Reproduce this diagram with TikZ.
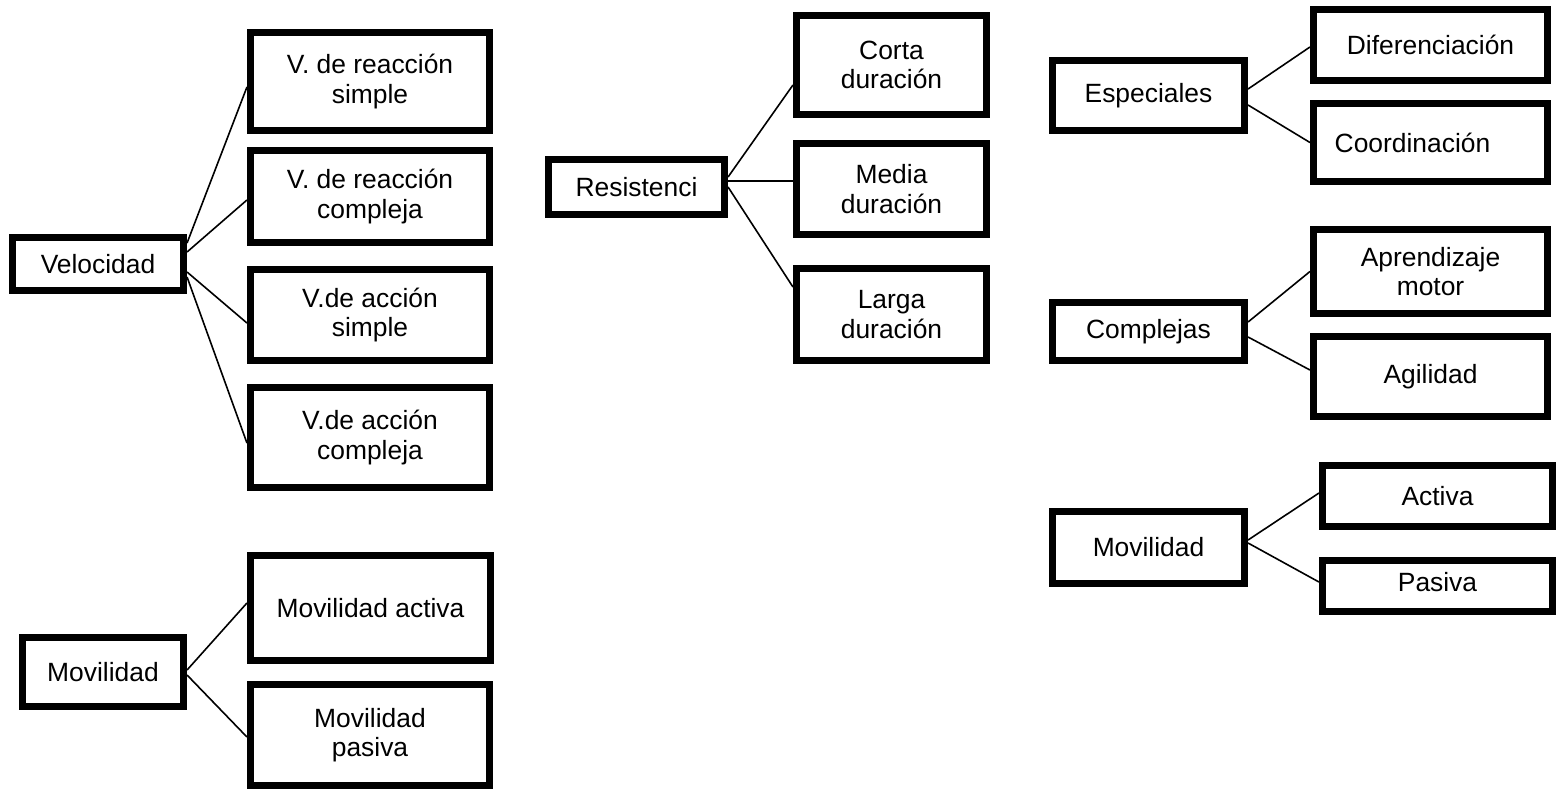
\documentclass[tikz,border=0pt]{standalone}
\usepackage{fontspec}
\setmainfont{Liberation Sans}
\usetikzlibrary{calc}
\tikzset{
  box/.style={draw=black, line width=3.3pt, fill=white, inner sep=0pt,
    align=center, font=\fontsize{13.2}{14.7}\selectfont},
  link/.style={draw=black, line width=0.8pt},
}
\begin{document}
\begin{tikzpicture}[x=0.5pt, y=-0.5pt]
  \fill[white] (0,0) rectangle (1557,789);
  \useasboundingbox (0,0) rectangle (1557,789);

  % --- Velocidad ---
  \node[box, minimum width=85.75pt, minimum height=26.75pt] (vel) at (98,264) {Velocidad};
  \node[box, minimum width=119.75pt, minimum height=49.25pt] (vrs) at (370,81.5) {V. de reacción\\simple};
  \node[box, minimum width=119.75pt, minimum height=46.25pt] (vrc) at (370,196.5) {V. de reacción\\compleja};
  \node[box, minimum width=119.75pt, minimum height=45.75pt] (vas) at (370,315) {V.de acción\\simple};
  \node[box, minimum width=119.75pt, minimum height=50.25pt] (vac) at (370,437.5) {V.de acción\\compleja};

  % --- Movilidad (left) ---
  \node[box, minimum width=80.75pt, minimum height=34.75pt] (movL) at (103,672) {Movilidad};
  \node[box, minimum width=120.25pt, minimum height=52.75pt] (mact) at (370.5,608) {Movilidad activa};
  \node[box, minimum width=119.75pt, minimum height=50.75pt] (mpas) at (370,735) {Movilidad\\pasiva};

  % --- Resistencia ---
  \node[box, minimum width=88.25pt, minimum height=27.75pt] (res) at (636.5,187) {Resistenci};
  \node[box, minimum width=95.25pt, minimum height=49.75pt] (corta) at (891.5,65) {Corta\\duración};
  \node[box, minimum width=95.25pt, minimum height=45.75pt] (media) at (891.5,189) {Media\\duración};
  \node[box, minimum width=95.25pt, minimum height=46.25pt] (larga) at (891.5,314.5) {Larga\\duración};

  % --- Especiales ---
  \node[box, minimum width=96.25pt, minimum height=35.25pt] (esp) at (1148.5,95.5) {Especiales};
  \node[box, minimum width=117.25pt, minimum height=35.75pt] (dif) at (1430.5,45) {Diferenciación};
  \node[box, minimum width=117.25pt, minimum height=39.25pt] (coord) at (1430.5,142.5) {Coordinación\hspace*{18pt}};

  % --- Complejas ---
  \node[box, minimum width=96.25pt, minimum height=29.25pt] (comp) at (1148.5,331.5) {Complejas};
  \node[box, minimum width=117.25pt, minimum height=42.25pt] (apr) at (1430.5,271.5) {Aprendizaje\\motor};
  \node[box, minimum width=117.25pt, minimum height=40.25pt] (agil) at (1430.5,376.5) {Agilidad};

  % --- Movilidad (right) ---
  \node[box, minimum width=96.25pt, minimum height=36.25pt] (movR) at (1148.5,547.5) {Movilidad};
  \node[box, minimum width=115.25pt, minimum height=30.75pt] (act) at (1437.5,496) {\raisebox{-7pt}{Activa}};
  \node[box, minimum width=115.25pt, minimum height=25.75pt] (pas) at (1437.5,586) {\raisebox{4pt}{Pasiva}};

  % --- connectors ---
  \draw[link] ($(vel.east)+(0,-21)$) -- ($(vrs.west)+(0,5.5)$);
  \draw[link] ($(vel.east)+(0,-12)$) -- ($(vrc.west)+(0,3.5)$);
  \draw[link] ($(vel.east)+(0,8)$) -- ($(vas.west)+(0,8)$);
  \draw[link] ($(vel.east)+(0,13)$) -- ($(vac.west)+(0,5.5)$);

  \draw[link] ($(movL.east)+(0,-2)$) -- ($(mact.west)+(0,-5)$);
  \draw[link] ($(movL.east)+(0,3)$) -- ($(mpas.west)+(0,2)$);

  \draw[link] ($(res.east)+(0,-10)$) -- ($(corta.west)+(0,20)$);
  \draw[link] ($(res.east)+(0,-6)$) -- ($(media.west)+(0,-8)$);
  \draw[link] ($(res.east)+(0,0)$) -- ($(larga.west)+(0,-27.5)$);

  \draw[link] ($(esp.east)+(0,-6.5)$) -- ($(dif.west)+(0,2)$);
  \draw[link] ($(esp.east)+(0,9.5)$) -- (coord.west);

  \draw[link] ($(comp.east)+(0,-9.5)$) -- (apr.west);
  \draw[link] ($(comp.east)+(0,5.5)$) -- ($(agil.west)+(0,-6.5)$);

  \draw[link] ($(movR.east)+(0,-7.5)$) -- ($(act.west)+(0,-3)$);
  \draw[link] ($(movR.east)+(0,-4.5)$) -- ($(pas.west)+(0,-4)$);
\end{tikzpicture}
\end{document}
